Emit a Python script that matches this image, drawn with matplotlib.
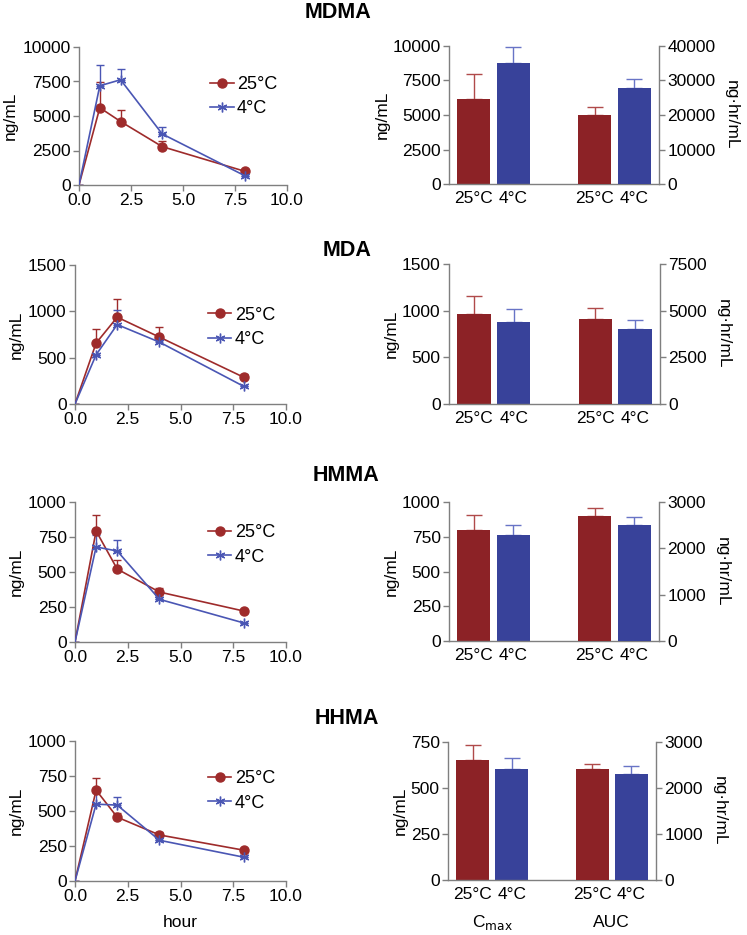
import numpy as np
import matplotlib
matplotlib.use('Agg')
import matplotlib.pyplot as plt

plt.rcParams['font.family'] = ['Liberation Sans', 'DejaVu Sans']
plt.rcParams['font.size'] = 12.5

# ---- data ----
drugs = ['MDMA', 'MDA', 'HMMA', 'HHMA']
hours = [0, 1, 2, 4, 8]
temps = ['25°C', '4°C']

# concentration-time means and upper error (top of error bar minus mean)
warm_mean = [[0, 5600, 4600, 2780, 980],
             [0, 657, 937, 722, 288],
             [0, 793, 521, 357, 221],
             [0, 649, 456, 329, 220]]
warm_err = [[0, 1830, 800, 440, 0],
            [0, 150, 195, 107, 38],
            [0, 115, 63, 30, 0],
            [0, 86, 31, 20, 0]]
cold_mean = [[0, 7190, 7625, 3700, 650],
             [0, 531, 857, 668, 190],
             [0, 679, 650, 305, 136],
             [0, 549, 542, 291, 170]]
cold_err = [[0, 1520, 780, 510, 0],
            [0, 0, 155, 20, 0],
            [0, 83, 76, 0, 0],
            [0, 88, 59, 0, 0]]

# Cmax (ng/mL) and AUC (ng*hr/mL), [25C, 4C]
cmax_mean = [[6160, 8770], [966, 877], [796, 764], [652, 605]]
cmax_err = [[1790, 1150], [194, 143], [111, 74], [80, 56]]
auc_mean = [[20130, 27760], [4550, 4030], [2700, 2500], [2407, 2311]]
auc_err = [[2310, 2780], [590, 480], [171, 186], [122, 167]]

line_ymax = [10000, 1500, 1000, 1000]
line_ystep = [2500, 500, 250, 250]
cmax_ymax = [10000, 1500, 1000, 750]
cmax_ystep = [2500, 500, 250, 250]
auc_ymax = [40000, 7500, 3000, 3000]
auc_ystep = [10000, 2500, 1000, 1000]

# ---- layout (pixels) ----
W, H = 747, 935
line_box = [(79, 47, 287, 185), (75, 265, 286, 404), (75, 502, 286, 642), (75, 741, 286, 881)]
bar_box = [(449, 46, 659, 184), (449, 264, 660, 404), (449, 502, 659, 641), (448, 742, 656, 880)]
title_xy = [(338, 12), (347, 250), (346, 476), (347, 718)]
legend_y = [0.79, 0.70, 0.84, 0.79]

RED = '#8C2226'
BLUE = '#38429A'
RED_LINE = '#9E2B2B'
BLUE_LINE = '#4A56B4'
RED_ERR = '#B04A4A'
BLUE_ERR = '#6874C6'
SPINE = '#7F7F7F'


def rect(l, t, r, b):
    return [l / W, 1 - b / H, (r - l) / W, (b - t) / H]


def style(ax):
    for s in ax.spines.values():
        s.set_color(SPINE)
        s.set_linewidth(1.0)
    ax.tick_params(colors=SPINE, labelcolor='black', length=4, width=1.0, pad=2)


fig = plt.figure(figsize=(W / 100, H / 100), dpi=100)

for i, drug in enumerate(drugs):
    tx, ty = title_xy[i]
    fig.text(tx / W, 1 - ty / H, drug, ha='center', va='center',
             fontsize=15.5, fontweight='bold')

    # concentration-time curve
    ax = fig.add_axes(rect(*line_box[i]))
    style(ax)
    ax.spines['top'].set_visible(False)
    ax.spines['right'].set_visible(False)
    zeros = np.zeros(len(hours))
    ax.errorbar(hours, warm_mean[i], yerr=[zeros, warm_err[i]], fmt='none',
                ecolor=RED_LINE, elinewidth=1.0, capsize=3, capthick=1.0, zorder=2)
    ax.errorbar(hours, cold_mean[i], yerr=[zeros, cold_err[i]], fmt='none',
                ecolor=BLUE_LINE, elinewidth=1.0, capsize=3, capthick=1.0, zorder=2)
    ax.plot(hours, warm_mean[i], color=RED_LINE, marker='o', markersize=6.5, lw=1.2,
            markevery=slice(1, None), label=temps[0], zorder=3)
    ax.plot(hours, cold_mean[i], color=BLUE_LINE, marker=(6, 2, 0), markersize=7,
            mew=1.0, lw=1.2, markevery=slice(1, None), label=temps[1], zorder=3)
    ax.set_xlim(0, 10)
    ax.set_ylim(0, line_ymax[i])
    ax.set_xticks(np.arange(0, 10.1, 2.5))
    ax.set_xticklabels(['%.1f' % v for v in np.arange(0, 10.1, 2.5)])
    ax.set_yticks(np.arange(0, line_ymax[i] + 1, line_ystep[i]))
    ax.set_ylabel('ng/mL', labelpad=3)
    ax.legend(loc='upper left', bbox_to_anchor=(0.63, legend_y[i]), frameon=False,
              handlelength=1.3, handletextpad=0.2, borderpad=0, borderaxespad=0,
              labelspacing=0.4, fontsize=13)
    if i == len(drugs) - 1:
        ax.set_xlabel('hour', labelpad=8)

    # Cmax / AUC bars
    bx = fig.add_axes(rect(*bar_box[i]))
    style(bx)
    bx.spines['top'].set_visible(False)
    bx.spines['right'].set_visible(False)
    bx2 = bx.twinx()
    style(bx2)
    bx2.spines['top'].set_visible(False)
    bx2.spines['left'].set_visible(False)
    bx2.spines['bottom'].set_visible(False)

    pos_c = [0, 1.2]
    pos_a = [3.65, 4.85]
    colors = [RED, BLUE]
    ecols = [RED_ERR, BLUE_ERR]
    for k in range(2):
        bx.bar(pos_c[k], cmax_mean[i][k], width=1.0, color=colors[k], zorder=2)
        bx.errorbar(pos_c[k], cmax_mean[i][k], yerr=[[0], [cmax_err[i][k]]], fmt='none',
                    ecolor=ecols[k], elinewidth=1.0, capsize=6, capthick=1.0, zorder=1)
        bx2.bar(pos_a[k], auc_mean[i][k], width=1.0, color=colors[k], zorder=2)
        bx2.errorbar(pos_a[k], auc_mean[i][k], yerr=[[0], [auc_err[i][k]]], fmt='none',
                     ecolor=ecols[k], elinewidth=1.0, capsize=6, capthick=1.0, zorder=1)
    bx.set_xlim(-0.75, 5.6)
    bx.set_ylim(0, cmax_ymax[i])
    bx.set_yticks(np.arange(0, cmax_ymax[i] + 1, cmax_ystep[i]))
    bx2.set_ylim(0, auc_ymax[i])
    bx2.set_yticks(np.arange(0, auc_ymax[i] + 1, auc_ystep[i]))
    bx.set_xticks(pos_c + pos_a)
    bx.set_xticklabels(temps + temps)
    bx.tick_params(axis='x', length=0, pad=5)
    bx.set_ylabel('ng/mL', labelpad=2)
    bx2.set_ylabel('ng·hr/mL', rotation=-90, labelpad=17)
    if i == len(drugs) - 1:
        bx.text(0.6, -0.31, r'C$_{\mathrm{max}}$', transform=bx.get_xaxis_transform(),
                ha='center', va='center')
        bx.text(4.25, -0.31, 'AUC', transform=bx.get_xaxis_transform(),
                ha='center', va='center')

fig.savefig('out.png', dpi=100)
